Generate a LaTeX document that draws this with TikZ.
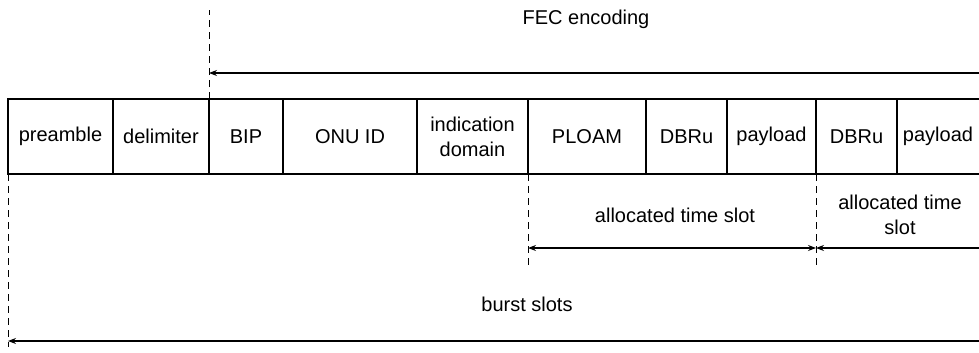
\documentclass[tikz,border=0pt]{standalone}
\usepackage{fontspec}
\setmainfont{Liberation Sans}
\usetikzlibrary{arrows.meta,positioning}

\begin{document}
\begin{tikzpicture}[x=1pt,y=-1pt,>={Stealth[length=8pt,width=6pt]},
  font=\fontsize{20}{25}\selectfont,
  field/.style={draw,line width=1.1pt,outer sep=0pt,inner sep=0pt,
    minimum height=75pt,align=center},
  guide/.style={dash pattern=on 7pt off 5pt,line width=1pt},
  span/.style={->,line width=1.1pt}]

  \useasboundingbox (0,0) rectangle (979,353);

  % frame fields
  \node[field,minimum width=105pt,anchor=north west] (pre) at (8,99) {preamble};
  \node[field,minimum width=96pt,right=0pt of pre] (delim) {delimiter};
  \node[field,minimum width=74pt,right=0pt of delim] (bip) {BIP};
  \node[field,minimum width=134pt,right=0pt of bip] (onu) {ONU ID};
  \node[field,minimum width=111pt,right=0pt of onu] (ind) {indication\\domain};
  \node[field,minimum width=118pt,right=0pt of ind] (ploam) {PLOAM};
  \node[field,minimum width=81pt,right=0pt of ploam] (dbru) {DBRu};
  \node[field,minimum width=89pt,right=0pt of dbru] (pay) {payload};
  \node[field,minimum width=81pt,right=0pt of pay] (dbrub) {DBRu};
  \node[field,draw=none,minimum width=82pt,right=0pt of dbrub] (payb) {payload};
  \draw[line width=1.1pt] (dbrub.north east) -- (payb.north east)
    (dbrub.south east) -- (payb.south east);

  % FEC encoding
  \coordinate (fectop) at (209,10);
  \coordinate (fecend) at (979,73);
  \draw[guide] (delim.north east) -- (fectop);
  \draw[span] (fecend) -- (fecend -| delim.north east);
  \node (fec) at (586,19) {FEC encoding};

  % allocated time slots
  \coordinate (slotA) at (528,265);
  \coordinate (slotB) at (816,265);
  \coordinate (slotend) at (979,248);
  \draw[guide] (ploam.south west) -- (slotA);
  \draw[guide] (pay.south east) -- (slotB);
  \draw[span,<->] (slotend -| slotA) -- (slotend -| slotB);
  \draw[span] (slotend) -- (slotend -| slotB);
  \node (slot) at (675,215) {allocated time slot};
  \node[align=center] (slotb) at (900,215) {allocated time\\slot};

  % burst slots
  \coordinate (burstbot) at (8,347);
  \coordinate (burstend) at (979,341);
  \draw[guide] (pre.south west) -- (burstbot);
  \draw[span] (burstend) -- (burstend -| pre.south west);
  \node (burst) at (527,304) {burst slots};
\end{tikzpicture}
\end{document}
